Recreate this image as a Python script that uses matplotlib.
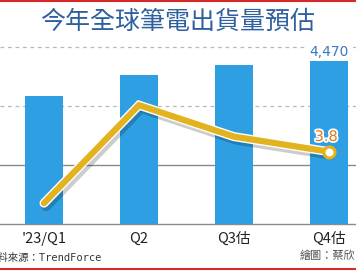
import matplotlib
matplotlib.use("Agg")
import matplotlib.pyplot as plt
import matplotlib.patheffects as pe
from matplotlib.lines import Line2D

plt.rcParams['font.family'] = ['Noto Sans CJK TC', 'DejaVu Sans']

# data
quarters = ["'23/Q1", "Q2", "Q3估", "Q4估"]
shipments = [3510, 4080, 4350, 4470]   # 萬台
growth = [-10.9, 17.1, 8.1, 3.8]       # QoQ %
title = "今年全球筆電出貨量預估"

W, H = 356, 272
fig = plt.figure(figsize=(W / 100, H / 100), dpi=100)
fig.patch.set_facecolor("white")

# axes spans px y 47..224, x 0..356
ax = fig.add_axes([0, (H - 224) / H, 1, 177 / H])
ax.set_facecolor("none")
ax.set_xlim(-44 / 95, 3 + 27 / 95)
ymax = 4845
ax.set_ylim(0, ymax)
for s in ax.spines.values():
    s.set_visible(False)
ax.set_yticks([])
ax.set_xticks([])

# grid lines
for i, frac in enumerate([1.0, 2 / 3, 1 / 3, 0.0]):
    if i < 2:
        ax.axhline(frac * ymax, color="#b8b8b8", lw=0.9, ls=(0, (3, 3)), zorder=0, clip_on=False)
    else:
        ax.axhline(frac * ymax, color="#8a8a8a", lw=1.0, zorder=0, clip_on=False)

xs = list(range(len(quarters)))
ax.bar(xs, shipments, width=0.4, color="#2f9fe3", zorder=1)
ax.text(xs[-1], shipments[-1] + 40, "{:,}".format(shipments[-1]), ha="center", va="bottom",
        fontsize=10, color="#3a78c0", family="DejaVu Sans",
        bbox=dict(boxstyle="square,pad=0.1", fc="white", ec="none"), zorder=3)

for x, lab in zip(xs, quarters):
    ax.text(x, -ymax * 0.045, lab, ha="center", va="top", fontsize=10.5, color="#222222")

# growth line
ax2 = ax.twinx()
ax2.set_ylim(-16.86, 33.71)
ax2.set_axis_off()
ln, = ax2.plot(xs, growth, color="#e2b31e", lw=4.5, solid_capstyle="round",
               solid_joinstyle="miter", zorder=4)
ln.set_path_effects([
    pe.SimpleLineShadow(offset=(1.5, -2), shadow_color="black", alpha=0.2, linewidth=7.5),
    pe.Stroke(linewidth=6.5, foreground="white"),
    pe.Normal(),
])
ax2.plot(xs[-1], growth[-1], "o", ms=8, mfc="white", mec="#e2b31e", mew=2.2, zorder=5)
ax2.text(xs[-1] - 0.03, growth[-1] + 2.2, str(growth[-1]), ha="center", va="bottom",
         fontsize=10.5, color="#e07a20", family="DejaVu Sans",
         path_effects=[pe.withStroke(linewidth=2.5, foreground="white")], zorder=6)

# title and notes
fig.text(178 / W, 1 - 22 / H, title, ha="center", va="center", fontsize=18, color="#2e5f9f")
fig.text(-12 / W, 1 - 258 / H, "資料來源：TrendForce", ha="left", va="center", fontsize=7.5,
         color="#333333", family=["DejaVu Sans Mono", "Noto Sans CJK TC"])
fig.text(300 / W, 1 - 256 / H, "繪圖：蔡欣", ha="left", va="center", fontsize=8, color="#555555")

# red frame lines
fig.add_artist(Line2D([0, 1], [1 - 0.5 / H, 1 - 0.5 / H], color="#d62a2a", lw=1.5))
fig.add_artist(Line2D([0, 1], [1 - 269 / H, 1 - 269 / H], color="#d62a2a", lw=1.5))

fig.savefig("out.png", dpi=100)
